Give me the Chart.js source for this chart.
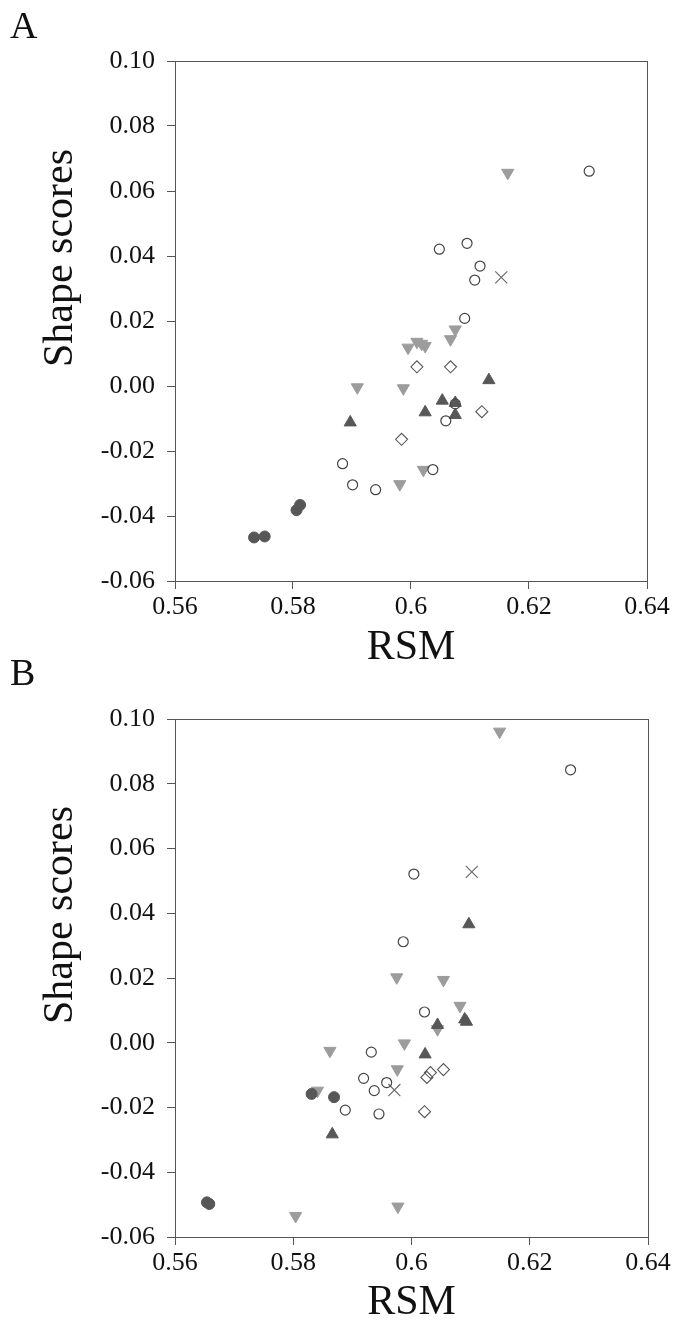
<!DOCTYPE html>
<html>
<head>
<meta charset="utf-8">
<title>Shape scores vs RSM</title>
<script src="https://cdn.jsdelivr.net/npm/chart.js@4.4.1/dist/chart.umd.min.js"></script>
<style>
  html, body { margin: 0; padding: 0; background: #fff; }
  #wrap { position: relative; width: 685px; height: 1335px; overflow: hidden; background: #fff; }
  .panel { position: absolute; left: 0; width: 685px; }
  .panel canvas { display: block; }
  .tag { position: absolute; left: 10px; font: 38px/38px 'Liberation Serif', 'Times New Roman', serif; color: #111; z-index: 2; }
</style>
</head>
<body>
<div id="wrap">
  <div class="tag" style="top:6px">A</div>
  <div class="tag" style="top:653px">B</div>
  <div class="panel" style="top:0"><canvas id="chartA" width="685" height="676"></canvas></div>
  <div class="panel" style="top:676px"><canvas id="chartB" width="685" height="659"></canvas></div>
</div>
<script>
// tick values, shared by both panels
const rsmTicks = [0.56, 0.58, 0.6, 0.62, 0.64];
const shapeTicks = [-0.06, -0.04, -0.02, 0, 0.02, 0.04, 0.06, 0.08, 0.10];

// Panel A  -  [RSM, shape score]
const aFilledCircle = [[0.5734, -0.0466], [0.5752, -0.0463], [0.5806, -0.0382], [0.5812, -0.0366]];
const aOpenCircle = [[0.6302, 0.0661], [0.6048, 0.0421], [0.6095, 0.0439], [0.6117, 0.0369], [0.6108, 0.0326],
                     [0.6091, 0.0208], [0.6075, -0.0055], [0.6059, -0.0107], [0.5884, -0.0239], [0.6037, -0.0257],
                     [0.5901, -0.0304], [0.5940, -0.0319]];
const aUpTriangle = [[0.6132, 0.0018], [0.6053, -0.0045], [0.6075, -0.0052], [0.6075, -0.0089], [0.6024, -0.0081],
                     [0.5897, -0.0112]];
const aDownTriangle = [[0.6164, 0.0656], [0.6075, 0.0174], [0.6067, 0.0144], [0.6010, 0.0136], [0.6018, 0.0130],
                       [0.6024, 0.0123], [0.5995, 0.0118], [0.5909, -0.0004], [0.5987, -0.0007], [0.6021, -0.0258],
                       [0.5981, -0.0302]];
const aDiamond = [[0.6010, 0.0059], [0.6067, 0.0059], [0.6120, -0.0079], [0.5984, -0.0164]];
const aCross = [[0.6153, 0.0334]];

// Panel B  -  [RSM, shape score]
const bFilledCircle = [[0.5654, -0.0493], [0.5658, -0.0498], [0.5831, -0.0158], [0.5869, -0.0168]];
const bOpenCircle = [[0.6269, 0.0843], [0.6004, 0.0521], [0.5986, 0.0312], [0.6022, 0.0095], [0.5932, -0.0029],
                     [0.5919, -0.0110], [0.5958, -0.0123], [0.5937, -0.0148], [0.5888, -0.0208], [0.5945, -0.0220]];
const bUpTriangle = [[0.6097, 0.0366], [0.6090, 0.0072], [0.6093, 0.0065], [0.6044, 0.0055], [0.6023, -0.0036],
                     [0.5866, -0.0283]];
const bDownTriangle = [[0.6149, 0.0961], [0.5975, 0.0202], [0.6054, 0.0194], [0.6082, 0.0114], [0.6044, 0.0042],
                       [0.5988, -0.0002], [0.5862, -0.0025], [0.5976, -0.0082], [0.5841, -0.0148], [0.5977, -0.0506],
                       [0.5804, -0.0535]];
const bDiamond = [[0.6054, -0.0083], [0.6032, -0.0092], [0.6026, -0.0107], [0.6022, -0.0213]];
const bCross = [[0.6102, 0.0528], [0.5971, -0.0146]];

const serif = "'Liberation Serif', 'Times New Roman', serif";
const axisColor = '#555';

// marker look for each group, in drawing order
const markerStyles = [
    { style: 'circle', radius: 5.5, fill: '#575757', stroke: '#575757', width: 1, rotation: 0 },
    { style: 'circle', radius: 5, fill: 'rgba(255,255,255,0)', stroke: '#444', width: 1.2, rotation: 0 },
    { style: 'triangle', radius: 7, fill: '#575757', stroke: '#575757', width: 1, rotation: 0 },
    { style: 'triangle', radius: 7, fill: '#9c9c9c', stroke: '#9c9c9c', width: 1, rotation: 180 },
    { style: 'rectRot', radius: 6, fill: 'rgba(255,255,255,0)', stroke: '#555', width: 1.1, rotation: 0 },
    { style: 'crossRot', radius: 8.5, fill: '#666', stroke: '#666', width: 1.1, rotation: 0 }
];

// box round the plot area
const framePlugin = {
    id: 'frame',
    beforeDatasetsDraw(chart) {
        const a = chart.chartArea;
        const ctx = chart.ctx;
        ctx.save();
        ctx.strokeStyle = axisColor;
        ctx.lineWidth = 1;
        ctx.strokeRect(Math.round(a.left) + 0.5, Math.round(a.top) + 0.5,
                       Math.round(a.right - a.left), Math.round(a.bottom - a.top));
        ctx.restore();
    }
};

const makeDatasets = (groups) => groups.map((pts, i) => {
    const m = markerStyles[i];
    return {
        data: pts.map(p => ({ x: p[0], y: p[1] })),
        pointStyle: m.style,
        pointRadius: m.radius,
        pointBackgroundColor: m.fill,
        pointBorderColor: m.stroke,
        pointBorderWidth: m.width,
        pointRotation: m.rotation,
        showLine: false
    };
});

const makeChart = (id, groups, padTop, padRight, xHeight, xTitlePad) => {
    return new Chart(document.getElementById(id), {
        type: 'scatter',
        data: { datasets: makeDatasets(groups) },
        plugins: [framePlugin],
        options: {
            responsive: false,
            animation: false,
            events: [],
            clip: false,
            layout: { padding: { top: padTop, right: padRight, left: 0, bottom: 0 } },
            plugins: { legend: { display: false }, tooltip: { enabled: false } },
            scales: {
                x: {
                    type: 'linear',
                    min: 0.56,
                    max: 0.64,
                    afterBuildTicks: s => { s.ticks = rsmTicks.map(v => ({ value: v })); },
                    afterFit: s => { s.height = xHeight; },
                    border: { display: false },
                    grid: { drawOnChartArea: false, drawTicks: true, tickLength: 8, tickColor: axisColor, tickWidth: 1 },
                    ticks: {
                        color: '#111',
                        padding: 3,
                        maxRotation: 0,
                        font: { family: serif, size: 26 },
                        callback: v => String(Number(v.toFixed(2)))
                    },
                    title: {
                        display: true,
                        text: 'RSM',
                        color: '#111',
                        font: { family: serif, size: 42 },
                        padding: { top: 0, bottom: xTitlePad }
                    }
                },
                y: {
                    type: 'linear',
                    min: -0.06,
                    max: 0.10,
                    afterBuildTicks: s => { s.ticks = shapeTicks.map(v => ({ value: v })); },
                    afterFit: s => { s.width = 175; },
                    border: { display: false },
                    grid: { drawOnChartArea: false, drawTicks: true, tickLength: 8, tickColor: axisColor, tickWidth: 1 },
                    ticks: {
                        color: '#111',
                        padding: 12,
                        font: { family: serif, size: 26 },
                        callback: v => v.toFixed(2)
                    },
                    title: {
                        display: true,
                        // leading spaces push the label up, as in the source figure
                        text: ' '.repeat(12) + 'Shape scores',
                        color: '#111',
                        font: { family: serif, size: 42 },
                        padding: { top: 36, bottom: 0 }
                    }
                }
            }
        }
    });
};

makeChart('chartA', [aFilledCircle, aOpenCircle, aUpTriangle, aDownTriangle, aDiamond, aCross], 61, 38, 95, 3);
makeChart('chartB', [bFilledCircle, bOpenCircle, bUpTriangle, bDownTriangle, bDiamond, bCross], 43, 37, 98, 7);
</script>
</body>
</html>
